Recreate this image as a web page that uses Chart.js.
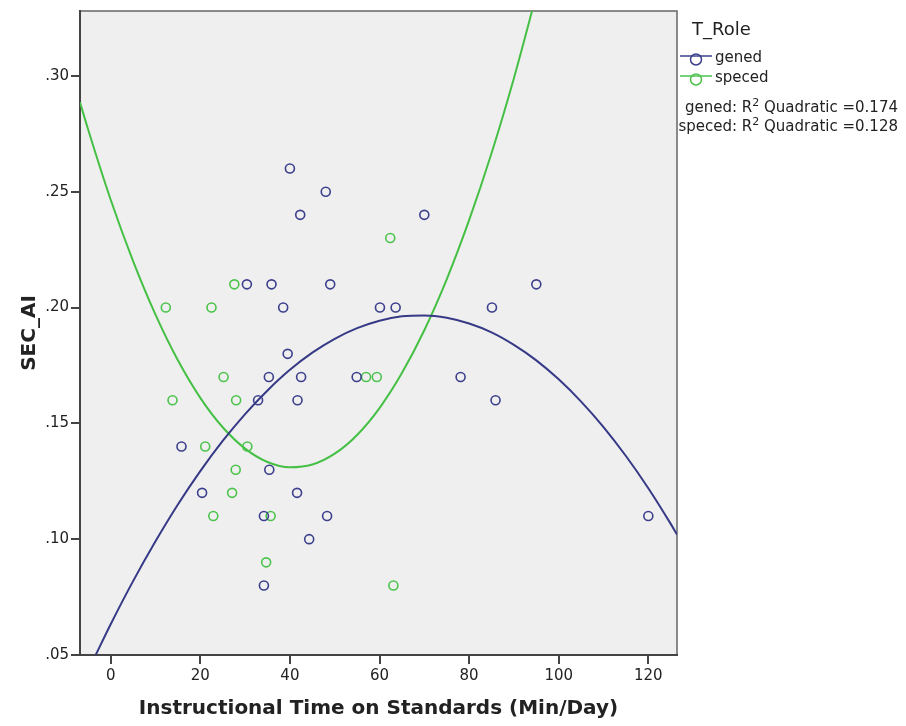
<!DOCTYPE html>
<html><head><meta charset="utf-8">
<script src="https://cdn.jsdelivr.net/npm/chart.js@4/dist/chart.umd.min.js"></script>
<style>
html,body{margin:0;padding:0;background:#fff;}
#wrap{position:relative;width:906px;height:726px;font-family:"DejaVu Sans",sans-serif;color:#222;}
canvas{display:block;}
.lg{position:absolute;white-space:nowrap;}
</style></head><body>
<div id="wrap">
<canvas id="c" width="906" height="726"></canvas>
<div class="lg" style="left:692px;top:18px;font-size:18px;">T_Role</div>
<div class="lg" style="left:679px;top:48px;font-size:15px;line-height:18px;">
<svg width="34" height="16" style="vertical-align:middle"><line x1="1" y1="6" x2="33" y2="6" stroke="#3c3f8c" stroke-width="1.5"/><circle cx="17" cy="9.5" r="5.5" fill="none" stroke="#3c3f8c" stroke-width="1.5"/></svg><span style="margin-left:2px">gened</span></div>
<div class="lg" style="left:679px;top:68px;font-size:15px;line-height:18px;">
<svg width="34" height="16" style="vertical-align:middle"><line x1="1" y1="6" x2="33" y2="6" stroke="#4cc34c" stroke-width="1.5"/><circle cx="17" cy="9.5" r="5.5" fill="none" stroke="#4cc34c" stroke-width="1.5"/></svg><span style="margin-left:2px">speced</span></div>
<div class="lg" style="right:8px;top:96px;font-size:15px;">gened: R<sup style="font-size:11px">2</sup> Quadratic =0.174</div>
<div class="lg" style="right:8px;top:115px;font-size:15px;">speced: R<sup style="font-size:11px">2</sup> Quadratic =0.128</div>
</div>
<script>
const xTicks = [0, 20, 40, 60, 80, 100, 120];
const yTicks = [0.05, 0.10, 0.15, 0.20, 0.25, 0.30];

const genedX = [40, 48, 42.3, 70, 30.4, 35.9, 49, 95, 38.5, 60.1, 63.6, 85.1, 39.5, 35.3, 42.5, 54.9, 78.1, 32.9, 41.7, 85.9, 15.8, 35.4, 20.4, 41.6, 34.2, 48.3, 120, 44.3, 34.2];
const genedY = [0.26, 0.25, 0.24, 0.24, 0.21, 0.21, 0.21, 0.21, 0.20, 0.20, 0.20, 0.20, 0.18, 0.17, 0.17, 0.17, 0.17, 0.16, 0.16, 0.16, 0.14, 0.13, 0.12, 0.12, 0.11, 0.11, 0.11, 0.10, 0.08];

const specedX = [62.4, 27.6, 12.3, 22.5, 25.2, 57.0, 59.4, 13.8, 28.0, 21.1, 30.5, 27.9, 27.1, 22.9, 35.7, 34.7, 63.1];
const specedY = [0.23, 0.21, 0.20, 0.20, 0.17, 0.17, 0.17, 0.16, 0.16, 0.14, 0.14, 0.13, 0.12, 0.11, 0.11, 0.09, 0.08];

// fitted quadratic curves
const genedFitX = [-3.3, 0, 5, 10, 15, 20, 25, 30, 35, 40, 45, 50, 55, 60, 65, 70, 75, 80, 85, 90, 95, 100, 105, 110, 115, 120, 125, 126.4];
const genedFitY = [0.0502, 0.0633, 0.0819, 0.0991, 0.1150, 0.1294, 0.1424, 0.1540, 0.1642, 0.1731, 0.1805, 0.1865, 0.1911, 0.1943, 0.1962, 0.1966, 0.1956, 0.1931, 0.1893, 0.1839, 0.1772, 0.1690, 0.1594, 0.1484, 0.1359, 0.1220, 0.1066, 0.1020];
const specedFitX = [-6.85, -5, 0, 5, 10, 15, 20, 25, 30, 35, 40, 45, 50, 55, 60, 65, 70, 75, 80, 85, 90, 95];
const specedFitY = [0.2886, 0.2766, 0.2465, 0.2200, 0.1969, 0.1772, 0.1610, 0.1483, 0.1391, 0.1333, 0.1310, 0.1322, 0.1369, 0.1450, 0.1566, 0.1717, 0.1902, 0.2122, 0.2377, 0.2666, 0.2990, 0.3349];

const BLUE = '#3c3f8c', GREEN = '#4cc34c';
const pts = (xs, ys) => xs.map((x, i) => ({x, y: ys[i]}));

const bgPlugin = {
  id: 'bg',
  beforeDraw(chart) {
    const {ctx, chartArea: a} = chart;
    ctx.save();
    ctx.fillStyle = '#efefef';
    ctx.fillRect(a.left, a.top, a.right - a.left, a.bottom - a.top);
    ctx.strokeStyle = '#666';
    ctx.lineWidth = 1.5;
    ctx.strokeRect(a.left, a.top, a.right - a.left, a.bottom - a.top);
    ctx.restore();
  }
};

const tickFont = {family: 'DejaVu Sans', size: 15};
new Chart(document.getElementById('c'), {
  type: 'scatter',
  data: {
    datasets: [
      {label: 'gened', data: pts(genedX, genedY), pointStyle: 'circle', pointRadius: 4.5, pointHoverRadius: 4.5, pointBorderWidth: 1.6, borderColor: BLUE, backgroundColor: 'transparent'},
      {label: 'speced', data: pts(specedX, specedY), pointStyle: 'circle', pointRadius: 4.5, pointHoverRadius: 4.5, pointBorderWidth: 1.6, borderColor: GREEN, backgroundColor: 'transparent'},
      {label: 'gened fit', data: pts(genedFitX, genedFitY), showLine: true, pointRadius: 0, borderColor: '#363a86', borderWidth: 2, cubicInterpolationMode: 'monotone', fill: false},
      {label: 'speced fit', data: pts(specedFitX, specedFitY), showLine: true, pointRadius: 0, borderColor: '#45c045', borderWidth: 2, cubicInterpolationMode: 'monotone', fill: false}
    ]
  },
  options: {
    responsive: false,
    animation: false,
    events: [],
    layout: {padding: {top: 11, right: 229, left: 0, bottom: 0}},
    plugins: {legend: {display: false}, tooltip: {enabled: false}},
    scales: {
      x: {
        type: 'linear', min: -6.85, max: 126.4,
        afterBuildTicks: s => { s.ticks = xTicks.map(v => ({value: v})); },
        afterFit: s => { s.height = 71; },
        ticks: {font: tickFont, color: '#222', padding: 3, maxRotation: 0},
        grid: {drawOnChartArea: false, drawTicks: true, tickLength: 9, color: '#444', lineWidth: 2},
        border: {display: true, color: '#444', width: 2},
        title: {display: true, text: 'Instructional Time on Standards (Min/Day)', color: '#222',
                font: {family: 'DejaVu Sans', size: 20, weight: 'bold'}, padding: {top: 4, bottom: 5}}
      },
      y: {
        type: 'linear', min: 0.05, max: 0.328,
        afterBuildTicks: s => { s.ticks = yTicks.map(v => ({value: v})); },
        afterFit: s => { s.width = 80; },
        ticks: {font: tickFont, color: '#222', padding: 2, callback: v => v.toFixed(2).replace(/^0/, '')},
        grid: {drawOnChartArea: false, drawTicks: true, tickLength: 9, color: '#444', lineWidth: 2},
        border: {display: true, color: '#444', width: 2},
        title: {display: true, text: 'SEC_AI', color: '#222',
                font: {family: 'DejaVu Sans', size: 20, weight: 'bold'}, padding: {top: 18, bottom: 4}}
      }
    }
  },
  plugins: [bgPlugin]
});
</script>
</body></html>
